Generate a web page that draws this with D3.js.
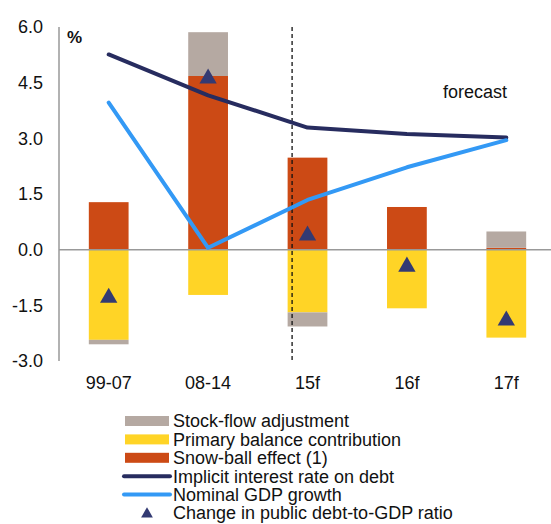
<!DOCTYPE html>
<html><head><meta charset="utf-8">
<script src="https://cdn.jsdelivr.net/npm/d3@7"></script>
<style>body{margin:0;background:#fff}svg{display:block;font-family:"Liberation Sans",Arial,sans-serif}</style>
</head><body>
<svg id="c" width="551" height="524"></svg>
<script>
const categories = ["99-07","08-14","15f","16f","17f"];
const snowball = [1.28, 4.68, 2.48, 1.15, 0.05];
const primaryBalance = [-2.43, -1.22, -1.69, -1.58, -2.37];
const stockFlow = [-0.12, 1.18, -0.38, 0.0, 0.44];
const implicitRate = [5.26, 4.16, 3.29, 3.12, 3.02];
const gdpGrowth = [3.96, 0.05, 1.34, 2.22, 2.95];
const debtChange = [-1.27, 4.64, 0.41, -0.43, -1.88];
const yTicks = [-3, -1.5, 0, 1.5, 3, 4.5, 6];
const legendLabels = ["Stock-flow adjustment","Primary balance contribution","Snow-ball effect (1)","Implicit interest rate on debt","Nominal GDP growth","Change in public debt-to-GDP ratio"];

const col = {sfa:"#b5a9a2", pb:"#ffd426", sb:"#cc4a15", ir:"#272c5f", gdp:"#3399f5", tri:"#333a73"};

const svg = d3.select("#c");
const x = d3.scaleBand().domain(categories).range([59, 556]).paddingInner(0.6).paddingOuter(0.3);
const y = d3.scaleLinear().domain([-3, 6]).range([361, 27]);
const cx = c => x(c) + x.bandwidth()/2;

const rows = categories.map((c,i)=>({cat:c, sb:snowball[i], pb:primaryBalance[i], sfa:stockFlow[i]}));
const stack = d3.stack().keys(["sb","pb","sfa"]).offset(d3.stackOffsetDiverging)(rows);

stack.forEach(s=>{
  svg.append("g").selectAll("rect").data(s).join("rect")
    .attr("x", d=>x(d.data.cat))
    .attr("width", x.bandwidth())
    .attr("y", d=>y(Math.max(d[0],d[1])))
    .attr("height", d=>Math.abs(y(d[0])-y(d[1])))
    .attr("fill", col[s.key]);
});

// axes
svg.append("line").attr("x1",59).attr("x2",59).attr("y1",y(6)).attr("y2",y(-3)).attr("stroke","#999").attr("stroke-width",1.5);
svg.append("line").attr("x1",59).attr("x2",551).attr("y1",y(0)).attr("y2",y(0)).attr("stroke","#999").attr("stroke-width",1.5);

svg.append("g").selectAll("text").data(yTicks).join("text")
  .attr("x",43).attr("y",d=>y(d)).attr("dy","0.36em").attr("text-anchor","end")
  .attr("font-size",18).attr("fill","#111").text(d=>d.toFixed(1));

svg.append("g").selectAll("text").data(categories).join("text")
  .attr("x",d=>cx(d)).attr("y",389).attr("text-anchor","middle")
  .attr("font-size",18).attr("fill","#111").text(d=>d);

// dashed forecast separator
const sepX = cx("15f") - x.step()*0.155;
svg.append("line").attr("x1",sepX).attr("x2",sepX).attr("y1",y(6)).attr("y2",363)
  .attr("stroke","#111").attr("stroke-width",1.3).attr("stroke-dasharray","4,3");

// lines
const line = d3.line().x((d,i)=>cx(categories[i])).y(d=>y(d));
svg.append("path").attr("d",line(implicitRate)).attr("fill","none").attr("stroke",col.ir).attr("stroke-width",4).attr("stroke-linejoin","round").attr("stroke-linecap","round");
svg.append("path").attr("d",line(gdpGrowth)).attr("fill","none").attr("stroke",col.gdp).attr("stroke-width",4).attr("stroke-linejoin","round").attr("stroke-linecap","round");

// triangles
const tri = d3.symbol().type(d3.symbolTriangle).size(130);
svg.append("g").selectAll("path").data(debtChange).join("path")
  .attr("d",tri).attr("transform",(d,i)=>`translate(${cx(categories[i])},${y(d)+1})`).attr("fill",col.tri);

svg.append("text").attr("x",67).attr("y",43).attr("font-size",17).attr("font-weight","bold").attr("fill","#111").text("%");
svg.append("text").attr("x",443).attr("y",98).attr("font-size",18).attr("fill","#111").text("forecast");

// legend
const lg = svg.append("g");
const ly0 = 421, ldy = 18.4;
legendLabels.forEach((t,i)=>{
  const yy = ly0 + i*ldy;
  if(i<3){
    lg.append("rect").attr("x",125).attr("y",yy-5).attr("width",44).attr("height",10).attr("fill",[col.sfa,col.pb,col.sb][i]);
  } else if(i<5){
    lg.append("line").attr("x1",124).attr("x2",170).attr("y1",yy).attr("y2",yy).attr("stroke",[col.ir,col.gdp][i-3]).attr("stroke-width",4).attr("stroke-linecap","round");
  } else {
    lg.append("path").attr("d",d3.symbol().type(d3.symbolTriangle).size(60)).attr("transform",`translate(147,${yy+1})`).attr("fill",col.tri);
  }
  lg.append("text").attr("x",173).attr("y",yy).attr("dy","0.36em").attr("font-size",18).attr("fill","#111").text(t);
});
</script>
</body></html>
